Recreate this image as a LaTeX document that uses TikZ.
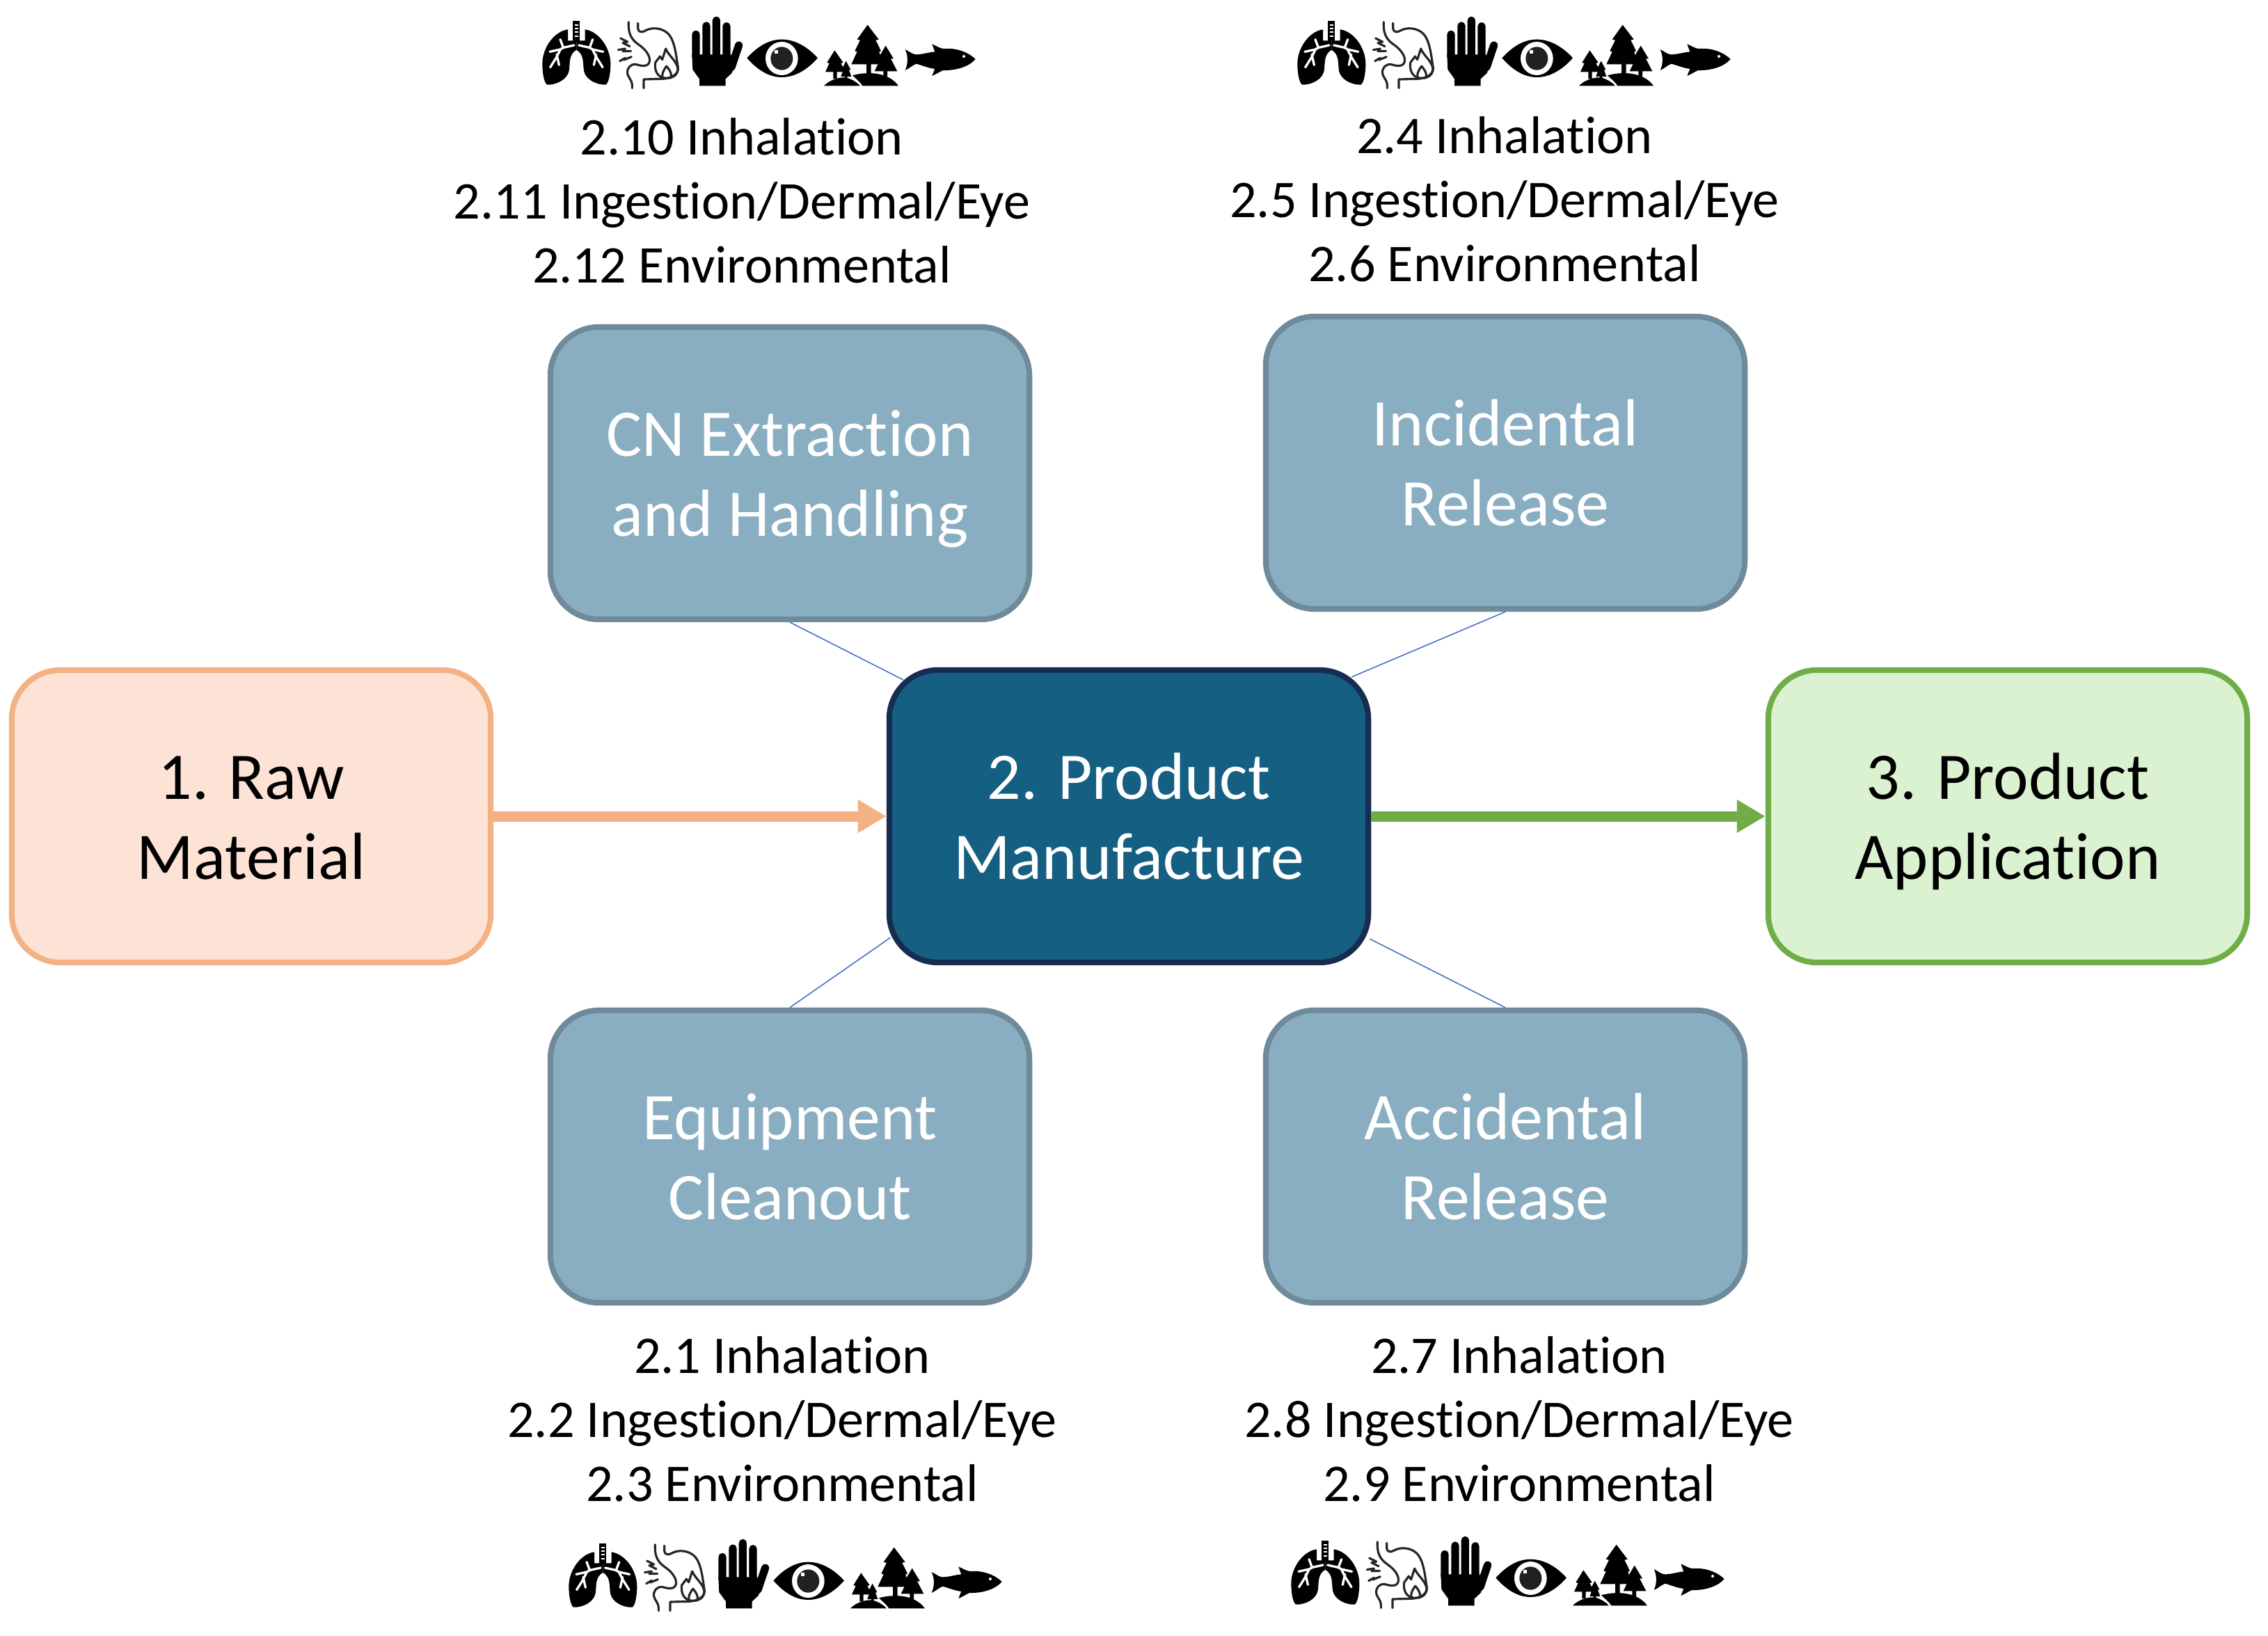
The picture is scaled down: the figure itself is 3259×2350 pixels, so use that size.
\documentclass[tikz,border=0pt]{standalone}
\usepackage{fontspec}
\setmainfont{Carlito}[Ligatures=NoCommon]
\usetikzlibrary{calc,arrows.meta}
\definecolor{subfill}{HTML}{8AAEC1}
\definecolor{subline}{HTML}{6F8A9A}
\definecolor{mainfill}{HTML}{156082}
\definecolor{mainline}{HTML}{172C51}
\definecolor{rawfill}{HTML}{FCE3D6}
\definecolor{rawline}{HTML}{F4B183}
\definecolor{appfill}{HTML}{DAF2D0}
\definecolor{appline}{HTML}{70AD47}
\definecolor{linkblue}{HTML}{4472C4}
\newcommand{\nodepth}[1]{\raisebox{0pt}[\height][0pt]{#1}}
\tikzset{
  stage/.style={draw,line width=2.3pt,rounded corners=.7cm,minimum width=6.88cm,minimum height=4.2cm,inner sep=0pt,align=center,font=\fontsize{27.2}{32.7}\selectfont},
  sub/.style={stage,fill=subfill,draw=subline,text=white},
  link/.style={draw=linkblue,line width=.45pt},
  flow/.style={line width=4.27pt,-{Triangle[length=.41cm,width=.45cm]}},
  lbl/.style={align=center,inner sep=0pt,font=\fontsize{21.65}{26.2}\selectfont},
}
\newcommand{\lungside}{%
  \fill (138,82) .. controls (80,90) and (28,160) .. (28,230) .. controls (28,270) and (35,310) .. (48,320)
    .. controls (85,322) and (135,300) .. (143,260) .. controls (148,230) and (140,190) .. (175,170)
    -- (175,130) -- (138,130) -- cycle;
  \draw[white,line width=.95pt,line cap=round,line join=round] (165,150) -- (120,160) -- (105,168) -- (60,178)
     (105,170) -- (90,200) -- (62,245) (90,190) -- (100,235) (105,125) -- (118,160);
}
\newcommand{\iconrow}[2]{%
\begin{scope}[shift={(#1,#2)},scale=1/3]
  % lungs
  \lungside
  \begin{scope}[shift={(350,0)},xscale=-1]\lungside\end{scope}
  \fill (160,45) rectangle (190,135);
  \draw[white,line width=.55pt] (168,62) -- (182,62) (168,78) -- (182,78) (168,94) -- (182,94) (168,110) -- (182,110);
  % stomach
  \begin{scope}[draw=black!85,line width=.9pt,line cap=round,line join=round]
  \draw (400,50) .. controls (398,90) and (405,120) .. (440,145) .. controls (470,165) and (495,195) .. (490,220)
    .. controls (485,245) and (455,240) .. (430,232) .. controls (405,232) and (392,250) .. (395,272)
    .. controls (400,295) and (418,300) .. (415,335);
  \draw (440,55) -- (440,78) .. controls (442,92) and (455,97) .. (470,88) .. controls (500,70) and (545,75) .. (570,100)
    .. controls (600,130) and (605,200) .. (612,240) .. controls (620,270) and (590,295) .. (540,295) -- (465,297) -- (465,335);
  \draw (560,165) .. controls (572,195) and (605,215) .. (612,250) .. controls (612,280) and (590,292) .. (560,292)
    .. controls (525,290) and (510,260) .. (515,225) -- (535,198) -- (545,212) -- cycle;
  \draw (563,240) .. controls (545,265) and (540,285) .. (550,292) (563,240) .. controls (580,260) and (590,280) .. (580,292);
  \draw (365,120) -- (395,135) -- (375,140) -- (405,155) (355,170) -- (385,165) -- (375,176) -- (410,175)
    (362,218) -- (385,205) -- (380,213) -- (412,200);
  \end{scope}
  % hand
  \fill (673,190) -- (840,190) -- (860,230) -- (845,270) -- (818,295) -- (818,325) -- (705,325) -- (705,295) -- (676,255) -- cycle;
  \draw[line width=3.2pt,line cap=round] (690,103) -- (690,200) (735,66) -- (735,200) (778,43) -- (778,200) (822,68) -- (822,200) (875,150) -- (843,245);
  % eye, trees, fish
  \begin{scope}[shift={(870,0)}]
  \fill (40,205) .. controls (90,150) and (140,125) .. (190,125) .. controls (240,125) and (295,150) .. (345,205)
     .. controls (295,262) and (240,288) .. (190,288) .. controls (140,288) and (90,262) .. (40,205) -- cycle;
  \fill[white] (190,207) ellipse [x radius=70,y radius=72];
  \fill[black!87] (190,207) ellipse [x radius=48,y radius=50];
  \fill[white] (158,170) rectangle (174,186);
  \fill (560,62) -- (515,125) -- (528,128) -- (505,175) -- (515,178) -- (490,232) -- (555,232) -- (555,275) -- (575,275) -- (575,232) -- (625,232) -- (610,178) -- (618,175) -- (595,128) -- (608,125) -- cycle;
  \fill (638,152) -- (672,208) -- (660,208) -- (688,262) -- (645,262) -- (645,285) -- (628,285) -- (628,262) -- (590,262) -- (615,210) -- (605,208) -- cycle;
  \fill (418,172) -- (455,225) -- (445,228) -- (465,265) -- (428,265) -- (428,295) -- (412,295) -- (412,265) -- (378,265) -- (395,228) -- (385,225) -- cycle;
  \fill (467,218) -- (487,255) -- (480,257) -- (490,285) -- (472,285) -- (472,295) -- (462,295) -- (462,285) -- (445,285) -- (455,257) -- (448,255) -- cycle;
  \fill (372,325) .. controls (395,300) and (440,285) .. (470,290) .. controls (495,298) and (515,310) .. (528,325) -- cycle;
  \fill (538,325) .. controls (525,305) and (510,295) .. (495,280) .. controls (560,262) and (650,265) .. (693,325) -- cycle;
  \fill (722,168) .. controls (745,180) and (755,190) .. (770,190) .. controls (795,190) and (825,180) .. (850,178) -- (838,145)
    .. controls (860,155) and (875,165) .. (890,165) .. controls (950,160) and (1000,185) .. (1025,210)
    .. controls (1000,240) and (945,260) .. (885,258) .. controls (870,265) and (855,275) .. (838,282) -- (850,252)
    .. controls (820,248) and (790,235) .. (770,230) .. controls (755,235) and (740,250) .. (722,258) .. controls (735,230) and (735,195) .. (722,168) -- cycle;
  \fill[white] (975,198) circle (6);
  \end{scope}
\end{scope}}
\begin{document}
\begin{tikzpicture}[x=.01cm,y=-.01cm]
\useasboundingbox (0,0) rectangle (3259,2350);
\node[sub] (cn) at (1135,680) {CN Extraction\\\nodepth{and Handling}};
\node[sub] (inc) at (2163,665) {Incidental\\Release};
\node[sub] (eq) at (1135,1662) {Equipment\\Cleanout};
\node[sub] (acc) at (2163,1662) {Accidental\\Release};
\node[stage,fill=rawfill,draw=rawline] (raw) at (361,1173) {\vphantom{d}1. Raw\\Material};
\node[stage,fill=mainfill,draw=mainline,text=white] (main) at (1622,1173) {2. Product\\Manufacture};
\node[stage,fill=appfill,draw=appline] (app) at (2885,1173) {3. Product\\\nodepth{Application}};
\draw[link] (cn.south) -- ($(main.north west)+(24,18)$);
\draw[link] (inc.south) -- ($(main.north east)+(-28,14)$);
\draw[link] (eq.north) -- ($(main.south west)+(6,-40)$);
\draw[link] (acc.north) -- ($(main.south east)+(-2,-38)$);
\draw[flow,draw=rawline,fill=rawline] (raw.east) -- (main.west);
\draw[flow,draw=appline,fill=appline] (main.east) -- (app.west);
\node[lbl] (l1) at (1066,288) {2.10 Inhalation\\2.11 Ingestion/Dermal/Eye\\2.12 Environmental};
\node[lbl] (l2) at (2162,286) {2.4 Inhalation\\2.5 Ingestion/Dermal/Eye\\2.6 Environmental};
\node[lbl] (l3) at (1124,2039) {2.1 Inhalation\\2.2 Ingestion/Dermal/Eye\\2.3 Environmental};
\node[lbl] (l4) at (2183,2039) {2.7 Inhalation\\2.8 Ingestion/Dermal/Eye\\2.9 Environmental};
\iconrow{770}{15}
\iconrow{1855}{15}
\iconrow{808}{2203}
\iconrow{1846}{2199}
\end{tikzpicture}
\end{document}
